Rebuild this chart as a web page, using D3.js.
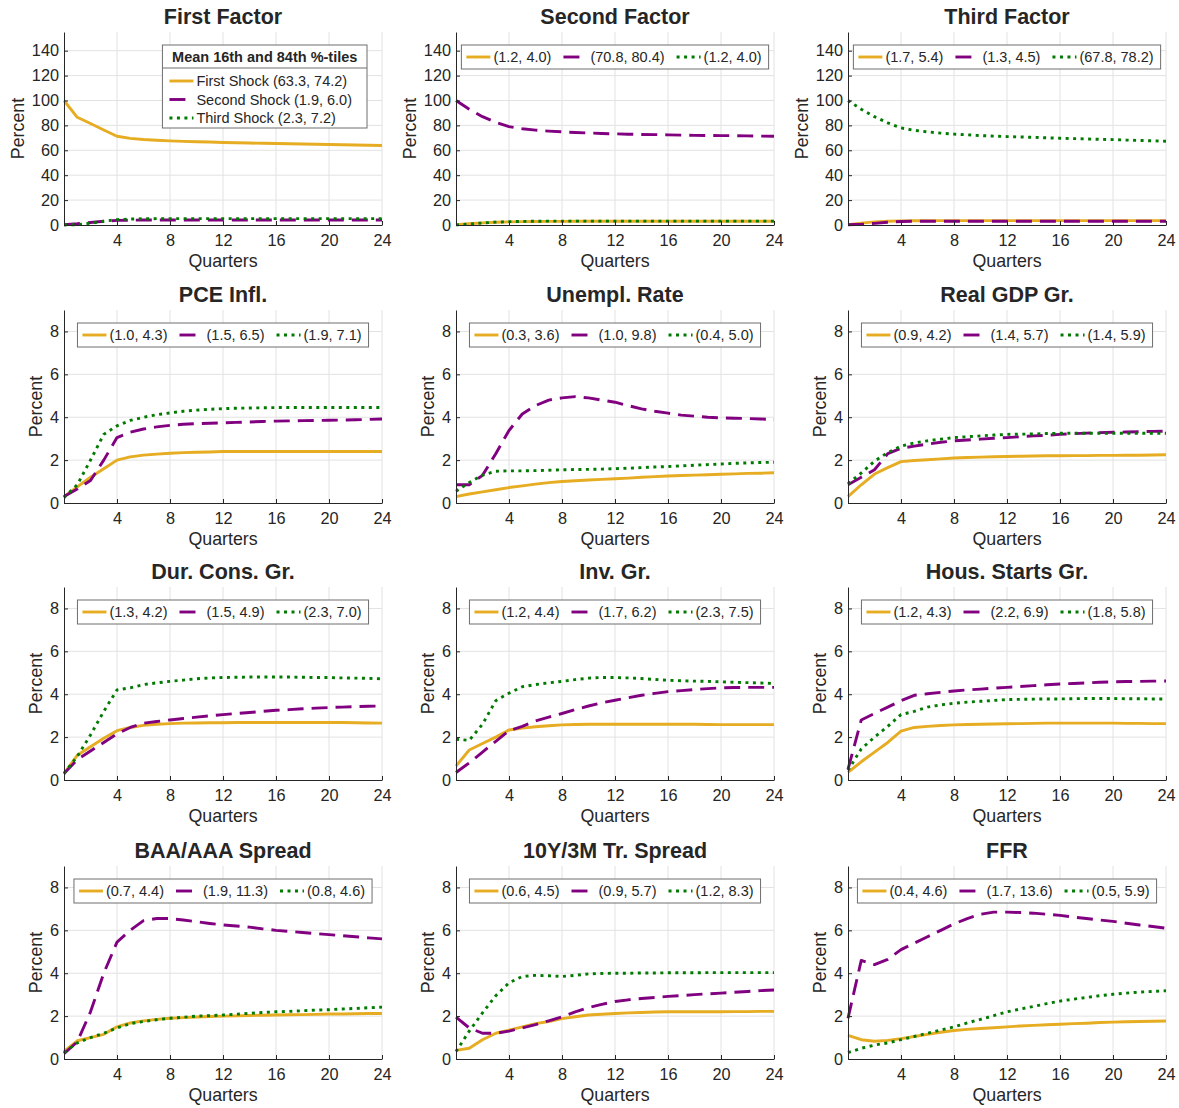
<!DOCTYPE html>
<html><head><meta charset="utf-8">
<script src="https://cdn.jsdelivr.net/npm/d3@7"></script>
<style>
body{margin:0;background:#fff}
text{font-family:"Liberation Sans",Arial,Helvetica,sans-serif;fill:#262626}
</style>
</head><body>
<svg id="chart" width="1179" height="1108"></svg>
<script>
// ---------- DATA ----------
const quarters = [0,1,2,3,4,5,6,7,8,9,10,11,12,13,14,15,16,17,18,19,20,21,22,23,24];
const xTickValues = [4,8,12,16,20,24];
const yTicksFactor = [0,20,40,60,80,100,120,140];
const yTicksVar = [0,2,4,6,8];
const panelTitles = ["First Factor","Second Factor","Third Factor","PCE Infl.","Unempl. Rate","Real GDP Gr.",
  "Dur. Cons. Gr.","Inv. Gr.","Hous. Starts Gr.","BAA/AAA Spread","10Y/3M Tr. Spread","FFR"];
const seriesNames = ["First Shock","Second Shock","Third Shock"];
const legendTitle = "Mean 16th and 84th %-tiles";
const bandLabels = [
  ["(63.3, 74.2)","(1.9, 6.0)","(2.3, 7.2)"],
  ["(1.2, 4.0)","(70.8, 80.4)","(1.2, 4.0)"],
  ["(1.7, 5.4)","(1.3, 4.5)","(67.8, 78.2)"],
  ["(1.0, 4.3)","(1.5, 6.5)","(1.9, 7.1)"],
  ["(0.3, 3.6)","(1.0, 9.8)","(0.4, 5.0)"],
  ["(0.9, 4.2)","(1.4, 5.7)","(1.4, 5.9)"],
  ["(1.3, 4.2)","(1.5, 4.9)","(2.3, 7.0)"],
  ["(1.2, 4.4)","(1.7, 6.2)","(2.3, 7.5)"],
  ["(1.2, 4.3)","(2.2, 6.9)","(1.8, 5.8)"],
  ["(0.7, 4.4)","(1.9, 11.3)","(0.8, 4.6)"],
  ["(0.6, 4.5)","(0.9, 5.7)","(1.2, 8.3)"],
  ["(0.4, 4.6)","(1.7, 13.6)","(0.5, 5.9)"]
];

const firstFactor1 = [100,86.5,81.5,76.3,71.3,69.6,68.7,68.1,67.6,67.2,66.9,66.6,66.3,66.1,65.8,65.6,65.4,65.2,65.0,64.8,64.6,64.4,64.2,64.0,63.8];
const firstFactor2 = [0.3,1.0,2.0,3.0,3.7,3.9,4.0,4.0,4.0,4.0,4.0,4.0,4.0,4.0,4.0,4.0,4.0,4.0,4.0,4.0,4.0,4.0,4.0,4.0,4.0];
const firstFactor3 = [0.0,0.3,1.5,3.0,4.3,4.8,5.0,5.1,5.1,5.1,5.1,5.1,5.1,5.1,5.1,5.1,5.1,5.1,5.1,5.1,5.1,5.1,5.1,5.1,5.1];

const secondFactor1 = [0.3,1.0,1.7,2.2,2.5,2.7,2.8,2.9,2.9,3.0,3.0,3.0,3.0,3.0,3.0,3.0,3.0,3.0,3.0,3.0,3.0,3.0,3.0,3.0,3.0];
const secondFactor2 = [100,93,87,82.5,79,77.3,76.2,75.4,74.8,74.3,73.9,73.5,73.2,72.9,72.7,72.6,72.4,72.2,72.0,71.9,71.8,71.7,71.6,71.4,71.3];
const secondFactor3 = [0.1,0.8,1.6,2.3,2.7,2.9,3.0,3.1,3.1,3.1,3.1,3.1,3.1,3.1,3.1,3.1,3.1,3.1,3.1,3.1,3.1,3.1,3.1,3.1,3.1];

const thirdFactor1 = [0.3,1.5,2.5,3.0,3.3,3.4,3.5,3.5,3.5,3.5,3.5,3.5,3.5,3.5,3.5,3.5,3.5,3.5,3.5,3.5,3.5,3.5,3.5,3.5,3.5];
const thirdFactor2 = [0.2,0.6,1.3,2.2,2.8,3.0,3.0,3.0,3.0,3.0,3.0,3.0,3.0,3.0,3.0,3.0,3.0,3.0,3.0,3.0,3.0,3.0,3.0,3.0,3.0];
const thirdFactor3 = [100,93,87,82,78,76,74.8,73.8,73.0,72.4,71.8,71.4,71.0,70.7,70.4,70.0,69.7,69.4,69.1,68.8,68.6,68.2,67.9,67.6,67.3];

const pce1 = [0.3,0.75,1.2,1.6,2.0,2.15,2.23,2.28,2.32,2.35,2.37,2.38,2.4,2.4,2.4,2.4,2.4,2.4,2.4,2.4,2.4,2.4,2.4,2.4,2.4];
const pce2 = [0.3,0.65,1.05,2.0,3.05,3.3,3.45,3.55,3.62,3.67,3.7,3.72,3.74,3.76,3.78,3.8,3.82,3.83,3.84,3.85,3.86,3.87,3.88,3.9,3.92];
const pce3 = [0.25,0.85,2.0,3.2,3.6,3.85,4.0,4.12,4.2,4.28,4.33,4.37,4.4,4.42,4.43,4.44,4.45,4.45,4.45,4.45,4.45,4.45,4.45,4.45,4.45];

const unemp1 = [0.3,0.42,0.52,0.62,0.72,0.8,0.88,0.95,1.0,1.04,1.07,1.1,1.13,1.16,1.2,1.23,1.26,1.28,1.3,1.32,1.34,1.36,1.38,1.39,1.41];
const unemp2 = [0.85,0.85,1.29,2.3,3.38,4.15,4.54,4.8,4.9,4.96,4.9,4.8,4.7,4.54,4.39,4.28,4.19,4.1,4.05,4.0,3.97,3.95,3.94,3.92,3.89];
const unemp3 = [0.55,0.95,1.3,1.48,1.5,1.5,1.51,1.53,1.55,1.56,1.57,1.58,1.6,1.62,1.65,1.68,1.7,1.73,1.76,1.79,1.82,1.85,1.87,1.89,1.9];

const gdp1 = [0.3,0.85,1.35,1.65,1.93,1.98,2.02,2.06,2.1,2.12,2.14,2.16,2.17,2.18,2.19,2.2,2.2,2.21,2.21,2.22,2.22,2.23,2.23,2.24,2.25];
const gdp2 = [0.85,1.2,1.55,2.3,2.55,2.65,2.75,2.83,2.9,2.94,2.98,3.02,3.05,3.09,3.13,3.16,3.2,3.23,3.26,3.28,3.3,3.31,3.32,3.34,3.35];
const gdp3 = [0.9,1.4,1.95,2.35,2.65,2.8,2.9,2.98,3.05,3.09,3.13,3.17,3.2,3.21,3.22,3.24,3.25,3.25,3.25,3.25,3.25,3.25,3.25,3.25,3.25];

const durCons1 = [0.3,1.15,1.55,1.95,2.3,2.45,2.55,2.6,2.63,2.65,2.66,2.67,2.67,2.68,2.68,2.68,2.68,2.68,2.68,2.68,2.68,2.68,2.67,2.66,2.65];
const durCons2 = [0.3,0.95,1.35,1.75,2.15,2.45,2.65,2.73,2.8,2.87,2.93,2.99,3.05,3.1,3.15,3.2,3.25,3.28,3.32,3.35,3.38,3.4,3.42,3.44,3.45];
const durCons3 = [0.3,1.1,2.1,3.2,4.2,4.3,4.45,4.53,4.6,4.66,4.72,4.76,4.78,4.79,4.8,4.8,4.8,4.8,4.79,4.78,4.78,4.76,4.75,4.74,4.72];

const inv1 = [0.65,1.4,1.7,2.0,2.33,2.42,2.48,2.53,2.57,2.59,2.6,2.6,2.6,2.6,2.6,2.6,2.6,2.6,2.6,2.59,2.58,2.58,2.58,2.58,2.58];
const inv2 = [0.35,0.8,1.3,1.8,2.3,2.5,2.75,2.93,3.1,3.28,3.45,3.6,3.72,3.84,3.95,4.04,4.12,4.17,4.22,4.26,4.3,4.31,4.32,4.32,4.32];
const inv3 = [1.9,1.85,2.6,3.7,4.05,4.35,4.45,4.53,4.6,4.68,4.75,4.78,4.78,4.76,4.73,4.69,4.65,4.63,4.61,4.6,4.58,4.56,4.54,4.52,4.5];

const hous1 = [0.35,0.85,1.3,1.75,2.28,2.45,2.5,2.54,2.57,2.59,2.6,2.61,2.62,2.63,2.64,2.65,2.65,2.65,2.65,2.65,2.65,2.64,2.64,2.63,2.63];
const hous2 = [0.5,2.8,3.1,3.4,3.7,3.95,4.02,4.09,4.15,4.2,4.24,4.28,4.32,4.36,4.4,4.44,4.48,4.5,4.53,4.56,4.58,4.59,4.6,4.61,4.62];
const hous3 = [0.45,1.45,2.0,2.5,3.05,3.2,3.4,3.5,3.58,3.63,3.67,3.71,3.75,3.76,3.77,3.78,3.78,3.79,3.8,3.8,3.8,3.79,3.79,3.78,3.78];

const baa1 = [0.35,0.85,1.0,1.15,1.5,1.68,1.78,1.85,1.9,1.93,1.96,1.98,2.0,2.01,2.03,2.04,2.05,2.06,2.07,2.08,2.1,2.1,2.11,2.12,2.12];
const baa2 = [0.25,0.8,2.2,4.0,5.45,6.0,6.45,6.55,6.55,6.48,6.4,6.32,6.25,6.2,6.15,6.07,6.0,5.95,5.9,5.85,5.8,5.75,5.7,5.65,5.6];
const baa3 = [0.3,0.75,1.0,1.2,1.45,1.65,1.75,1.83,1.9,1.95,2.0,2.02,2.05,2.09,2.13,2.17,2.2,2.22,2.25,2.28,2.3,2.33,2.36,2.39,2.42];

const term1 = [0.4,0.5,0.9,1.2,1.35,1.5,1.65,1.75,1.88,1.97,2.05,2.09,2.12,2.15,2.17,2.19,2.2,2.2,2.2,2.2,2.2,2.21,2.21,2.22,2.22];
const term2 = [1.95,1.45,1.2,1.2,1.3,1.45,1.6,1.78,1.97,2.2,2.4,2.55,2.68,2.76,2.82,2.87,2.92,2.96,3.0,3.04,3.07,3.11,3.15,3.19,3.22];
const term3 = [0.35,1.3,2.15,2.95,3.55,3.85,3.9,3.88,3.85,3.9,3.97,3.99,4.0,4.0,4.01,4.01,4.02,4.02,4.02,4.03,4.03,4.03,4.03,4.03,4.03];

const ffr1 = [1.1,0.9,0.83,0.87,0.95,1.05,1.15,1.25,1.33,1.38,1.42,1.46,1.5,1.54,1.57,1.6,1.62,1.65,1.67,1.7,1.72,1.74,1.75,1.76,1.77];
const ffr2 = [1.9,4.6,4.4,4.65,5.1,5.4,5.7,6.0,6.3,6.55,6.75,6.85,6.85,6.83,6.8,6.75,6.7,6.62,6.55,6.48,6.42,6.33,6.25,6.18,6.1];
const ffr3 = [0.3,0.5,0.65,0.75,0.9,1.05,1.2,1.35,1.5,1.68,1.85,2.02,2.2,2.33,2.45,2.58,2.7,2.79,2.87,2.95,3.02,3.07,3.12,3.15,3.18];

const panelSeries = [
  [firstFactor1, firstFactor2, firstFactor3],
  [secondFactor1, secondFactor2, secondFactor3],
  [thirdFactor1, thirdFactor2, thirdFactor3],
  [pce1, pce2, pce3],
  [unemp1, unemp2, unemp3],
  [gdp1, gdp2, gdp3],
  [durCons1, durCons2, durCons3],
  [inv1, inv2, inv3],
  [hous1, hous2, hous3],
  [baa1, baa2, baa3],
  [term1, term2, term3],
  [ffr1, ffr2, ffr3]
];

// ---------- STYLE / LAYOUT ----------
const colors = ["#E6AC22","#800080","#007A00"];
const dashes = [null,"16,8","3,4.5"];
const lineW = 2.9;
const colLeft = [64,456,848], rowTop = [32,310,587,866];
const W = 318, H = 193;
const tickFont = 16.3, labelFont = 17.8, titleFont = 21.5, legendFont = 14.5;

const svg = d3.select("#chart");

panelTitles.forEach((title, i) => {
  const r = Math.floor(i/3), c = i % 3;
  const isFactor = r === 0;
  const g = svg.append("g").attr("transform", `translate(${colLeft[c]},${rowTop[r]})`);
  const x = d3.scaleLinear().domain([0,24]).range([0,W]);
  const y = d3.scaleLinear().domain([0, isFactor ? 155 : 9]).range([H,0]);
  const yTicks = isFactor ? yTicksFactor : yTicksVar;

  // grid
  const grid = g.append("g").attr("stroke","#e2e2e2").attr("stroke-width",1);
  grid.selectAll(".gx").data(xTickValues).join("line")
    .attr("x1",d=>x(d)).attr("x2",d=>x(d)).attr("y1",0).attr("y2",H);
  grid.selectAll(".gy").data(yTicks.filter(d=>d>0)).join("line")
    .attr("x1",0).attr("x2",W).attr("y1",d=>y(d)).attr("y2",d=>y(d));

  // series
  const line = d3.line().x((d,k)=>x(quarters[k])).y(d=>y(d));
  panelSeries[i].forEach((s, k) => {
    g.append("path").datum(s).attr("d", line)
      .attr("fill","none").attr("stroke", colors[k]).attr("stroke-width", lineW)
      .attr("stroke-dasharray", dashes[k]).attr("stroke-linejoin","round");
  });

  // axes
  const xAxis = g.append("g").attr("transform",`translate(0,${H})`)
    .call(d3.axisBottom(x).tickValues(xTickValues).tickSizeInner(-4).tickSizeOuter(0).tickPadding(9));
  const yAxis = g.append("g")
    .call(d3.axisLeft(y).tickValues(yTicks).tickSizeInner(-4).tickSizeOuter(0).tickPadding(5));
  [xAxis, yAxis].forEach(a => {
    a.select(".domain").attr("stroke","#262626").attr("stroke-width",1);
    a.selectAll(".tick line").attr("stroke","#262626");
    a.selectAll(".tick text").attr("font-size", tickFont).attr("font-family",null).style("fill","#262626");
    a.attr("font-family",null);
  });
  let maxTW = 0;
  yAxis.selectAll(".tick text").each(function(){ maxTW = Math.max(maxTW, this.getComputedTextLength()); });

  // labels
  g.append("text").attr("x", W/2).attr("y", H+36).attr("dy","0.35em")
    .attr("text-anchor","middle").attr("font-size", labelFont).text("Quarters");
  g.append("text").attr("transform",`translate(${-(maxTW+19)},${H/2}) rotate(-90)`)
    .attr("dy","0.35em").attr("text-anchor","middle").attr("font-size", labelFont).text("Percent");
  g.append("text").attr("x", W/2).attr("y", -16).attr("dy","0.35em")
    .attr("text-anchor","middle").attr("font-size", titleFont).attr("font-weight","bold").text(title);

  // legend
  const lg = g.append("g");
  const box = lg.append("rect").attr("fill","#fff").attr("stroke","#6e6e6e").attr("stroke-width",1);
  if (i === 0) {
    const tt = lg.append("text").attr("font-size", legendFont).attr("font-weight","bold")
      .attr("text-anchor","middle").attr("dy","0.35em").text(legendTitle);
    const tw = tt.node().getComputedTextLength();
    const items = seriesNames.map((n,k)=>lg.append("text").attr("font-size",legendFont)
      .attr("dy","0.35em").text(`${n} ${bandLabels[i][k]}`));
    const iw = d3.max(items, t=>t.node().getComputedTextLength());
    const bw = Math.max(tw + 14, 7 + 24 + 3 + iw + 15);
    const bx = W - 15 - bw, by = 13, bh = 83;
    box.attr("x",bx).attr("y",by).attr("width",bw).attr("height",bh);
    tt.attr("x", bx + bw/2).attr("y", by + 12);
    lg.append("line").attr("x1",bx).attr("x2",bx+bw).attr("y1",by+23).attr("y2",by+23)
      .attr("stroke","#6e6e6e").attr("stroke-width",1);
    items.forEach((t,k)=>{
      const yy = by + 36 + k*18.5;
      lg.append("line").attr("x1",bx+7).attr("x2",bx+31).attr("y1",yy).attr("y2",yy)
        .attr("stroke",colors[k]).attr("stroke-width",lineW).attr("stroke-dasharray",dashes[k]);
      t.attr("x", bx+34).attr("y", yy);
    });
  } else {
    const items = bandLabels[i].map(l=>lg.append("text").attr("font-size",legendFont)
      .attr("dy","0.35em").text(l));
    const widths = items.map(t=>t.node().getComputedTextLength());
    const bw = 5 + d3.sum(widths) + 3*(24+3) + 2*12 + 7;
    const bx = W/2 - bw/2, by = 13, bh = 24;
    box.attr("x",bx).attr("y",by).attr("width",bw).attr("height",bh);
    let cx = bx + 5;
    items.forEach((t,k)=>{
      const yy = by + bh/2;
      lg.append("line").attr("x1",cx).attr("x2",cx+24).attr("y1",yy).attr("y2",yy)
        .attr("stroke",colors[k]).attr("stroke-width",lineW).attr("stroke-dasharray",dashes[k]);
      t.attr("x", cx+27).attr("y", yy);
      cx += 27 + widths[k] + 12;
    });
  }
});
</script>
</body></html>
